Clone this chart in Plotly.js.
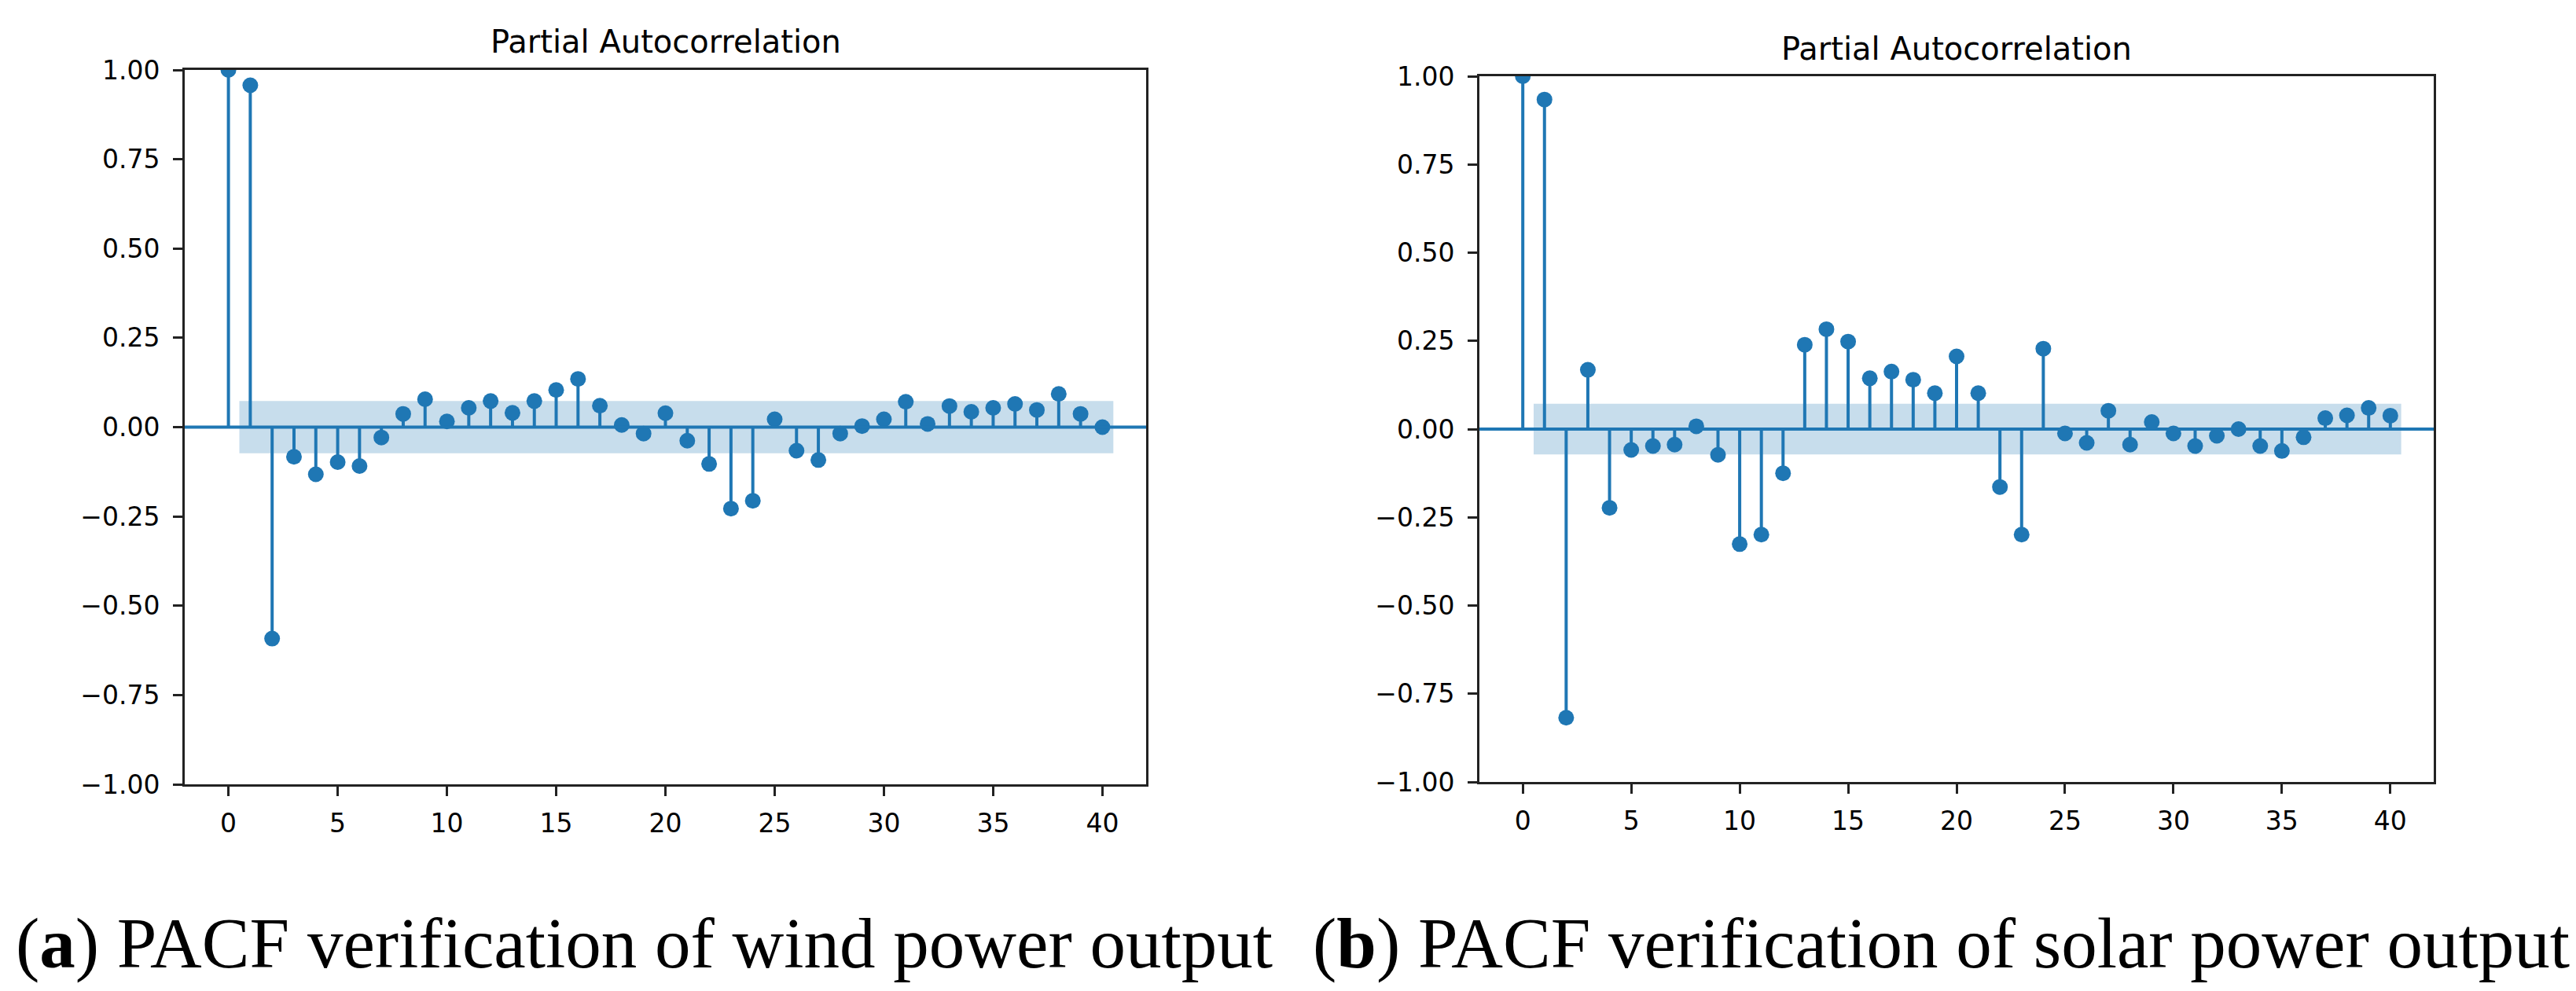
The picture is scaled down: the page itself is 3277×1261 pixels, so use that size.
<!DOCTYPE html>
<html><head><meta charset="utf-8">
<script src="https://cdn.plot.ly/plotly-3.0.1.min.js"></script>
<style>html,body{margin:0;padding:0;background:#fff}#chart{width:3277px;height:1261px}</style>
</head><body><div id="chart"></div>
<script>
const lags = [0,1,2,3,4,5,6,7,8,9,10,11,12,13,14,15,16,17,18,19,20,21,22,23,24,25,26,27,28,29,30,31,32,33,34,35,36,37,38,39,40];
const windPacf = [1.0,0.957,-0.592,-0.083,-0.132,-0.098,-0.109,-0.029,0.037,0.078,0.016,0.054,0.073,0.040,0.073,0.104,0.135,0.060,0.006,-0.018,0.039,-0.038,-0.103,-0.228,-0.206,0.022,-0.066,-0.092,-0.018,0.003,0.022,0.071,0.009,0.059,0.043,0.054,0.065,0.048,0.093,0.037,0.0];
const solarPacf = [1.0,0.934,-0.818,0.168,-0.223,-0.059,-0.048,-0.044,0.008,-0.073,-0.326,-0.299,-0.125,0.239,0.283,0.248,0.144,0.163,0.140,0.102,0.206,0.102,-0.164,-0.299,0.228,-0.012,-0.039,0.052,-0.044,0.020,-0.012,-0.048,-0.019,0.0,-0.048,-0.062,-0.023,0.031,0.039,0.060,0.038];
const windConf = 0.073;
const solarConf = 0.072;
const bandLags = [0.5, 40.5];
const xTicks = [0,5,10,15,20,25,30,35,40];
const yTicks = [-1,-0.75,-0.5,-0.25,0,0.25,0.5,0.75,1];
const panelTitles = ['Partial Autocorrelation','Partial Autocorrelation'];
const captions = ['(<b>a</b>) PACF verification of wind power output','(<b>b</b>) PACF verification of solar power output'];

const C0 = '#1f77b4';
const W = 3277, H = 1261;

function panel(vals, conf, xa, ya) {
  const sx = [], sy = [];
  lags.forEach((l, i) => { sx.push(l, l, null); sy.push(0, vals[i], null); });
  return [
    {type:'scatter', mode:'lines', x:[bandLags[0],bandLags[1],bandLags[1],bandLags[0],bandLags[0]],
     y:[-conf,-conf,conf,conf,-conf], fill:'toself', fillcolor:'rgba(31,119,180,0.25)',
     line:{width:0,color:'rgba(0,0,0,0)'}, xaxis:xa, yaxis:ya, hoverinfo:'skip'},
    {type:'scatter', mode:'lines', x:sx, y:sy, line:{color:C0,width:4}, xaxis:xa, yaxis:ya, hoverinfo:'skip'},
    {type:'scatter', mode:'markers', x:lags, y:vals, marker:{color:C0,size:20}, xaxis:xa, yaxis:ya}
  ];
}

const data = [...panel(windPacf, windConf, 'x', 'y'), ...panel(solarPacf, solarConf, 'x2', 'y2')];

const axBase = {showline:true, mirror:true, linecolor:'#222', linewidth:3, ticks:'outside', ticklen:12,
  tickwidth:3, tickcolor:'#222', showgrid:false, zeroline:false,
  tickfont:{family:'DejaVu Sans', size:33, color:'#000'}};
const xBase = Object.assign({}, axBase, {range:[-2,42], tickmode:'array', tickvals:xTicks, ticklabelstandoff:6});
const yBase = Object.assign({}, axBase, {range:[-1,1], tickmode:'array', tickvals:yTicks, tickformat:'.2f', ticklabelstandoff:10});

const d = (a,b,n) => [a/n, b/n];
const layout = {
  width:W, height:H, margin:{l:0,r:0,t:0,b:0}, showlegend:false,
  paper_bgcolor:'#fff', plot_bgcolor:'#fff',
  xaxis: Object.assign({}, xBase, {domain:[235/W, 1458/W], anchor:'y'}),
  yaxis: Object.assign({}, yBase, {domain:[1-998/H, 1-89/H], anchor:'x'}),
  xaxis2: Object.assign({}, xBase, {domain:[1882/W, 3096/W], anchor:'y2'}),
  yaxis2: Object.assign({}, yBase, {domain:[1-995/H, 1-97/H], anchor:'x2'}),
  shapes: [
    {type:'line', xref:'x domain', yref:'y', x0:0, x1:1, y0:0, y1:0, line:{color:C0,width:4}},
    {type:'line', xref:'x2 domain', yref:'y2', x0:0, x1:1, y0:0, y1:0, line:{color:C0,width:4}}
  ],
  annotations: [
    {text:panelTitles[0], xref:'paper', yref:'paper', x:(235+1458)/2/W, y:1-53/H, xanchor:'center', yanchor:'middle',
     showarrow:false, font:{family:'DejaVu Sans', size:40, color:'#000'}},
    {text:panelTitles[1], xref:'paper', yref:'paper', x:(1882+3096)/2/W, y:1-62/H, xanchor:'center', yanchor:'middle',
     showarrow:false, font:{family:'DejaVu Sans', size:40, color:'#000'}},
    {text:captions[0], xref:'paper', yref:'paper', x:18/W, y:1-1200/H, xanchor:'left', yanchor:'middle',
     showarrow:false, font:{family:'Liberation Serif', size:91, color:'#000'}},
    {text:captions[1], xref:'paper', yref:'paper', x:1668/W, y:1-1200/H, xanchor:'left', yanchor:'middle',
     showarrow:false, font:{family:'Liberation Serif', size:91, color:'#000'}}
  ]
};

Plotly.newPlot('chart', data, layout, {staticPlot:true, displayModeBar:false});
</script></body></html>
